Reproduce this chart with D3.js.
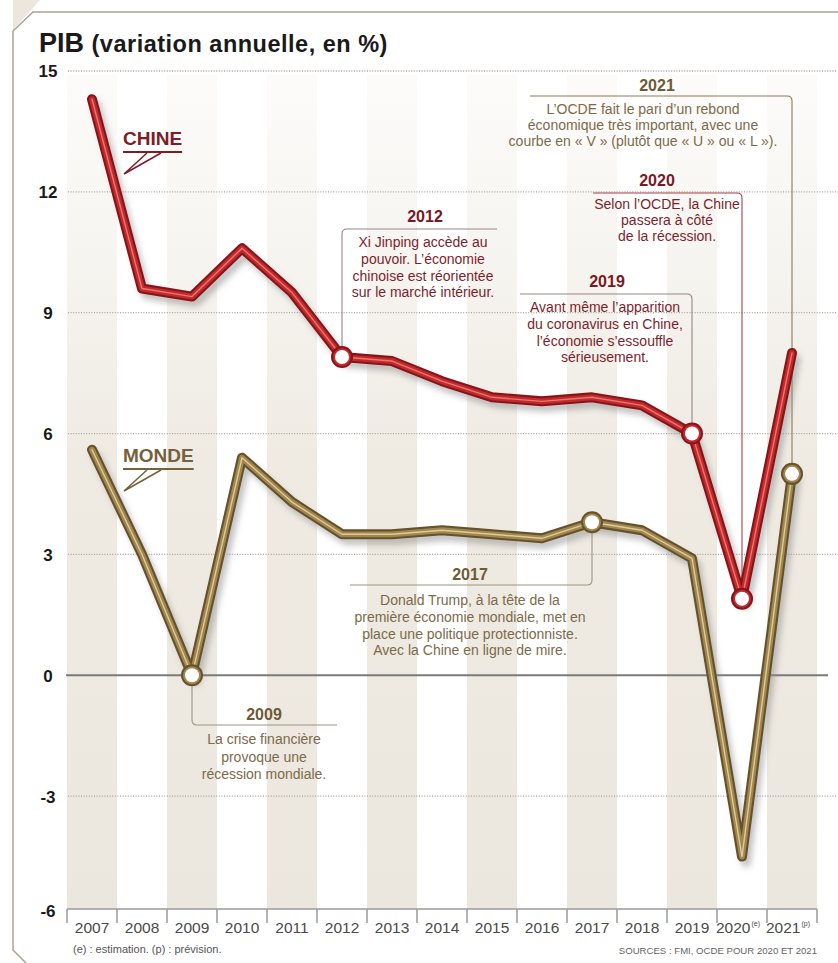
<!DOCTYPE html>
<html lang="fr">
  <head>
    <meta charset="UTF-8" />
    <title>PIB</title>
    <style type="text/css">
      body {
        margin: 0;
        background: #ffffff;
      }
      svg text {
        font-family: "Liberation Sans", Arial, sans-serif;
      }
    </style>
  </head>
  <body>
    <div id="chart"></div>
    <script src="https://d3js.org/d3.v7.min.js"></script>
    <script>
      // data
      var years = [2007, 2008, 2009, 2010, 2011, 2012, 2013, 2014, 2015, 2016, 2017, 2018, 2019, 2020, 2021];
      var chine = [14.3, 9.6, 9.4, 10.6, 9.5, 7.9, 7.8, 7.3, 6.9, 6.8, 6.9, 6.7, 6.0, 1.9, 8.0];
      var monde = [5.6, 3.0, 0.0, 5.4, 4.3, 3.5, 3.5, 3.6, 3.5, 3.4, 3.8, 3.6, 2.9, -4.5, 5.0];
      var yTicks = [-6, -3, 0, 3, 6, 9, 12, 15];
      var gridTicks = [-3, 3, 6, 9, 12, 15];
      var superscripts = { 2020: "(e)", 2021: "(p)" };

      // annotations (text only)
      var notes = [
        { year: 2021, series: "monde", title: "2021",
          lines: ["L\u2019OCDE fait le pari d\u2019un rebond", "économique très important, avec une", "courbe en « V » (plutôt que « U » ou « L »)."] },
        { year: 2020, series: "chine", title: "2020",
          lines: ["Selon l\u2019OCDE, la Chine", "passera à côté", "de la récession."] },
        { year: 2012, series: "chine", title: "2012",
          lines: ["Xi Jinping accède au", "pouvoir. L\u2019économie", "chinoise est réorientée", "sur le marché intérieur."] },
        { year: 2019, series: "chine", title: "2019",
          lines: ["Avant même l\u2019apparition", "du coronavirus en Chine,", "l\u2019économie s\u2019essouffle", "sérieusement."] },
        { year: 2017, series: "monde", title: "2017",
          lines: ["Donald Trump, à la tête de la", "première économie mondiale, met en", "place une politique protectionniste.", "Avec la Chine en ligne de mire."] },
        { year: 2009, series: "monde", title: "2009",
          lines: ["La crise financière", "provoque une", "récession mondiale."] }
      ];

      // where each note box goes (pixels)
      var noteLayout = {
        2021: { lineY: 96, endX: 530, titleX: 657, titleY: 91, textX: 643, textY: 114, lh: 16, color: "#8c7a55", text: "#7c6a4a", head: "#6e5a34" },
        2020: { lineY: 193, endX: 593, titleX: 657, titleY: 186, textX: 667, textY: 209, lh: 16, color: "#a8424c", text: "#7f1e2b", head: "#7a1822" },
        2012: { lineY: 229, endX: 497, titleX: 425, titleY: 222, textX: 423, textY: 247, lh: 16.8, color: "#9a8487", text: "#7f1e2b", head: "#7a1822" },
        2019: { lineY: 294, endX: 520, titleX: 607, titleY: 287, textX: 605, textY: 312, lh: 16.8, color: "#9a8487", text: "#7f1e2b", head: "#7a1822" },
        2017: { lineY: 585, endX: 350, titleX: 470, titleY: 580, textX: 470, textY: 605, lh: 16.8, color: "#9d9480", text: "#7c6a4a", head: "#6e5a34" },
        2009: { lineY: 725, endX: 337, titleX: 264, titleY: 720, textX: 264, textY: 744, lh: 17.5, color: "#9d9480", text: "#7c6a4a", head: "#6e5a34" }
      };

      var W = 838, H = 963;

      var svg = d3.select("#chart").append("svg").attr("width", W).attr("height", H);

      var x = d3.scaleBand().domain(years).range([67, 817]);
      var y = d3.scaleLinear().domain([-6, 15]).range([917, 71]);
      var bw = x.bandwidth();
      var axisY = y(-6) - 8;
      var cx = function (yr) { return x(yr) + bw / 2; };

      var defs = svg.append("defs");
      var grad = defs.append("linearGradient").attr("id", "stripe").attr("x1", 0).attr("y1", 0).attr("x2", 0).attr("y2", 1);
      grad.append("stop").attr("offset", "0%").attr("stop-color", "#f3f0ea").attr("stop-opacity", 0.25);
      grad.append("stop").attr("offset", "45%").attr("stop-color", "#efebe3").attr("stop-opacity", 1);
      grad.append("stop").attr("offset", "100%").attr("stop-color", "#ece7de").attr("stop-opacity", 1);

      var blur = defs.append("filter").attr("id", "shadow").attr("x", "-20%").attr("y", "-20%").attr("width", "140%").attr("height", "140%");
      blur.append("feGaussianBlur").attr("stdDeviation", 3);

      // frame
      svg.append("path")
        .attr("d", "M0,0 H40 L13,30 V0 Z")
        .attr("fill", "#ece6dc");
      svg.append("path")
        .attr("d", "M" + W + ",12 H33 L13,31 V950 L26," + H)
        .attr("fill", "none")
        .attr("stroke", "#aaa295")
        .attr("stroke-width", 1.5);

      // title
      var title = svg.append("text").attr("x", 39).attr("y", 52).attr("fill", "#1a1a1a").attr("font-weight", "bold");
      title.append("tspan").attr("font-size", 27).text("PIB ");
      title.append("tspan").attr("font-size", 23.5).attr("letter-spacing", 0.5).text("(variation annuelle, en %)");

      // stripes
      svg.append("g")
        .selectAll("rect")
        .data(years.filter(function (d, i) { return i % 2 === 0; }))
        .enter()
        .append("rect")
        .attr("x", function (d) { return x(d); })
        .attr("y", y(15) + 4)
        .attr("width", bw)
        .attr("height", axisY - y(15) - 4)
        .attr("fill", "url(#stripe)");

      // gridlines
      svg.append("g")
        .selectAll("line")
        .data(gridTicks)
        .enter()
        .append("line")
        .attr("x1", 68)
        .attr("x2", 836)
        .attr("y1", function (d) { return y(d); })
        .attr("y2", function (d) { return y(d); })
        .attr("stroke", "#a9a49c")
        .attr("stroke-width", 1.3)
        .attr("stroke-dasharray", "1,1.6");

      svg.append("line")
        .attr("x1", 66).attr("x2", 828)
        .attr("y1", y(0)).attr("y2", y(0))
        .attr("stroke", "#7a7a7a")
        .attr("stroke-width", 2);

      // y axis labels
      var yAxis = svg.append("g")
        .attr("transform", "translate(48,0)")
        .call(d3.axisLeft(y).tickValues(yTicks).tickSize(0).tickPadding(0).tickFormat(function (d) { return String(d); }));
      yAxis.select(".domain").remove();
      yAxis.selectAll("text")
        .attr("x", 0)
        .attr("text-anchor", "middle")
        .attr("font-size", 17)
        .attr("font-weight", "bold")
        .attr("font-family", "Liberation Sans, Arial, sans-serif")
        .attr("fill", "#1a1a1a")
        .attr("dy", function (d) { return d === -6 ? "-0.05em" : "0.35em"; });

      // x axis
      svg.append("line")
        .attr("x1", x.range()[0]).attr("x2", x.range()[1])
        .attr("y1", axisY).attr("y2", axisY)
        .attr("stroke", "#9a9a9a")
        .attr("stroke-width", 1.5);
      svg.append("g")
        .selectAll("line")
        .data(years.map(function (d) { return x(d); }).concat([x.range()[1]]))
        .enter()
        .append("line")
        .attr("x1", function (d) { return d; })
        .attr("x2", function (d) { return d; })
        .attr("y1", axisY)
        .attr("y2", axisY + 14)
        .attr("stroke", "#9a9a9a")
        .attr("stroke-width", 1.5);

      var xAxis = svg.append("g")
        .attr("transform", "translate(0," + axisY + ")")
        .call(d3.axisBottom(x).tickSize(0));
      xAxis.select(".domain").remove();
      xAxis.selectAll("text")
        .attr("y", 24)
        .attr("dy", 0)
        .attr("font-family", "Liberation Sans, Arial, sans-serif")
        .attr("font-size", 15.5)
        .attr("fill", "#4a4a4a")
        .each(function (d) {
          if (superscripts[d]) {
            d3.select(this).attr("dx", -4);
            d3.select(this).append("tspan").attr("font-size", 7).attr("dy", -7).attr("dx", 1).text(superscripts[d]);
          }
        });

      // footnotes
      svg.append("text").attr("x", 73).attr("y", 953).attr("font-size", 11).attr("fill", "#555").text("(e) : estimation. (p) : prévision.");
      svg.append("text").attr("x", 817).attr("y", 954).attr("text-anchor", "end").attr("font-size", 9.6).attr("fill", "#666")
        .text("SOURCES : FMI, OCDE POUR 2020 ET 2021");

      // note boxes
      var seriesVals = { chine: chine, monde: monde };
      var noteG = svg.append("g");
      notes.forEach(function (n) {
        var L = noteLayout[n.year];
        var px = cx(n.year);
        var py = y(seriesVals[n.series][years.indexOf(n.year)]);
        var r = 5;
        var up = L.lineY < py;
        var dirX = L.endX < px ? -1 : 1;
        var d = "M" + px + "," + py + " V" + (L.lineY + (up ? r : -r)) +
          " Q" + px + "," + L.lineY + " " + (px + dirX * r) + "," + L.lineY + " H" + L.endX;
        noteG.append("path").attr("d", d).attr("fill", "none").attr("stroke", L.color).attr("stroke-width", 1.1);
        noteG.append("text")
          .attr("x", L.titleX).attr("y", L.titleY)
          .attr("text-anchor", "middle")
          .attr("font-size", 16).attr("font-weight", "bold")
          .attr("fill", L.head)
          .text(n.title);
        noteG.append("g")
          .selectAll("text")
          .data(n.lines)
          .enter()
          .append("text")
          .attr("x", L.textX)
          .attr("y", function (t, i) { return L.textY + i * L.lh; })
          .attr("text-anchor", "middle")
          .attr("font-size", 14)
          .attr("fill", L.text)
          .text(function (t) { return t; });
      });

      // lines
      var line = d3.line()
        .x(function (d, i) { return cx(years[i]); })
        .y(function (d) { return y(d); });

      var styles = {
        chine: { outer: "#861519", mid: "#c32a2e", hi: "#e8776c" },
        monde: { outer: "#65512b", mid: "#a1864e", hi: "#dccb9c" }
      };

      ["monde", "chine"].forEach(function (s) {
        var st = styles[s];
        var vals = seriesVals[s];
        svg.append("path").datum(vals).attr("d", line)
          .attr("transform", "translate(4,6)")
          .attr("fill", "none").attr("stroke", "#8a8a8a").attr("stroke-opacity", 0.55)
          .attr("stroke-width", 9).attr("stroke-linejoin", "round").attr("stroke-linecap", "round")
          .attr("filter", "url(#shadow)");
        svg.append("path").datum(vals).attr("d", line)
          .attr("fill", "none").attr("stroke", st.outer)
          .attr("stroke-width", 10).attr("stroke-linejoin", "round").attr("stroke-linecap", "round");
        svg.append("path").datum(vals).attr("d", line)
          .attr("fill", "none").attr("stroke", st.mid)
          .attr("stroke-width", 5.8).attr("stroke-linejoin", "round").attr("stroke-linecap", "round");
        svg.append("path").datum(vals).attr("d", line)
          .attr("fill", "none").attr("stroke", st.hi)
          .attr("stroke-width", 1.4).attr("stroke-linejoin", "round").attr("stroke-linecap", "round");
      });

      // highlighted points
      var pts = notes.map(function (n) {
        return { year: n.year, series: n.series, v: seriesVals[n.series][years.indexOf(n.year)] };
      });
      var ptG = svg.append("g").selectAll("g").data(pts).enter().append("g")
        .attr("transform", function (d) { return "translate(" + cx(d.year) + "," + y(d.v) + ")"; });
      ptG.append("circle").attr("r", 11).attr("fill", function (d) { return styles[d.series].outer; });
      ptG.append("circle").attr("r", 9).attr("fill", function (d) { return styles[d.series].mid; });
      ptG.append("circle").attr("r", 7).attr("fill", "#ffffff");

      // series labels
      var labels = [
        { name: "CHINE", x: 123, y: 145, color: "#801c25" },
        { name: "MONDE", x: 123, y: 462, color: "#75613b" }
      ];
      labels.forEach(function (l) {
        var t = svg.append("text").attr("x", l.x).attr("y", l.y)
          .attr("font-size", 19).attr("font-weight", "bold").attr("fill", l.color).text(l.name);
        var w = t.node().getComputedTextLength();
        svg.append("line").attr("x1", l.x).attr("x2", l.x + w).attr("y1", l.y + 7).attr("y2", l.y + 7)
          .attr("stroke", l.color).attr("stroke-width", 2);
        svg.append("path")
          .attr("d", "M" + (l.x + 24) + "," + (l.y + 8) + " L" + (l.x + 1) + "," + (l.y + 29) + " L" + (l.x + 38) + "," + (l.y + 8))
          .attr("fill", "none").attr("stroke", l.color).attr("stroke-width", 1.5).attr("stroke-linejoin", "miter");
      });
    </script>
  </body>
</html>
